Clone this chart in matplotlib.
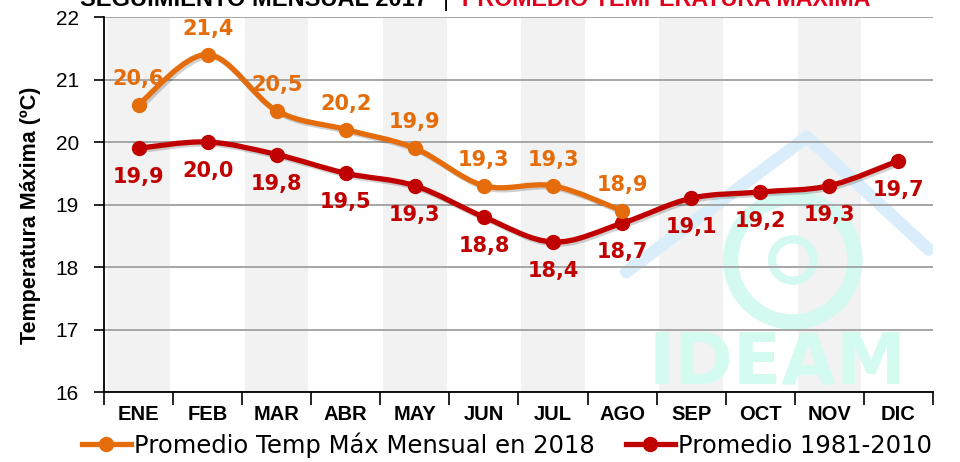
import matplotlib
matplotlib.use("Agg")
import matplotlib.pyplot as plt
import numpy as np
from matplotlib.path import Path
from matplotlib.patches import PathPatch, Ellipse
from matplotlib.lines import Line2D
from matplotlib.transforms import offset_copy

# datos
meses = ["ENE", "FEB", "MAR", "ABR", "MAY", "JUN", "JUL", "AGO", "SEP", "OCT", "NOV", "DIC"]
temp_2018 = [20.6, 21.4, 20.5, 20.2, 19.9, 19.3, 19.3, 18.9]
temp_1981_2010 = [19.9, 20.0, 19.8, 19.5, 19.3, 18.8, 18.4, 18.7, 19.1, 19.2, 19.3, 19.7]
yticks = [16, 17, 18, 19, 20, 21, 22]

NARANJA = "#e46c0a"
ROJO = "#c00000"
ARIAL = "Liberation Sans"


def curva_suave(xs, ys):
    # curva tipo "línea suavizada" de Excel (Bezier cúbica por los puntos)
    pts = np.column_stack([xs, ys]).astype(float)
    n = len(pts)
    verts = [pts[0]]
    codes = [Path.MOVETO]
    for i in range(n - 1):
        p0 = pts[i - 1] if i > 0 else pts[i]
        p1 = pts[i]
        p2 = pts[i + 1]
        p3 = pts[i + 2] if i + 2 < n else pts[i + 1]
        verts += [p1 + (p2 - p0) / 6.0, p2 - (p3 - p1) / 6.0, p2]
        codes += [Path.CURVE4] * 3
    return Path(verts, codes)


def ajustar_ancho(txt, ancho_px):
    # ajusta el tamaño de letra para que el texto ocupe ancho_px
    r = fig.canvas.get_renderer()
    w = txt.get_window_extent(r).width
    txt.set_fontsize(txt.get_fontsize() * ancho_px / w)


fig = plt.figure(figsize=(9.6, 4.62), dpi=100)
ax = fig.add_axes([0.1083, 0.1515, 0.8635, 0.8117])

x = np.arange(len(meses))

# franjas grises alternas
ax.bar(x[::2], 6, bottom=16, width=0.92, color="#f2f2f2", zorder=0.2)

# marca de agua IDEAM
marca = ax.text(0.813, 0.024, "IDEAM", transform=ax.transAxes, ha="center", va="baseline",
                fontsize=49, fontweight="bold", family="DejaVu Sans", color="#d3fbef", zorder=0.4)
ajustar_ancho(marca, 258)
ax.plot([0.63, 0.848, 0.995], [0.32, 0.68, 0.38], transform=ax.transAxes,
        color="#d9eefa", lw=9, solid_capstyle="round", zorder=0.4)
ax.add_patch(Ellipse((0.831, 0.352), 0.15, 0.33, transform=ax.transAxes, fill=False,
                     ec="#d3f9f1", lw=11, zorder=0.4))
ax.add_patch(Ellipse((0.831, 0.352), 0.05, 0.11, transform=ax.transAxes, fill=False,
                     ec="#d3f9f1", lw=6, zorder=0.4))

sombra_tr = offset_copy(ax.transData, fig=fig, x=2, y=-2, units="dots")

for datos, color, dy in [(temp_1981_2010, ROJO, -29), (temp_2018, NARANJA, 26)]:
    xs = x[:len(datos)]
    curva = curva_suave(xs, datos)
    ax.add_patch(PathPatch(curva, fill=False, ec="black", alpha=0.18, lw=4.0,
                           transform=sombra_tr, zorder=2.5))
    ax.add_patch(PathPatch(curva, fill=False, ec=color, lw=3.8,
                           capstyle="round", joinstyle="round", zorder=3))
    ax.plot(xs, datos, "o", color=color, ms=10, zorder=4)
    for xi, v in zip(xs, datos):
        ax.annotate(f"{v:.1f}".replace(".", ","), (xi, v), xytext=(0, dy),
                    textcoords="offset pixels", ha="center", va="center",
                    fontsize=15, fontweight="bold", family="DejaVu Sans", color=color, zorder=5)

ax.set_xlim(-0.5, 11.5)
ax.set_ylim(16, 22)
ax.set_yticks(yticks)
ax.set_yticklabels([str(t) for t in yticks], family=ARIAL, fontsize=15)
ax.set_xticks(x)
ax.set_xticklabels(meses, family=ARIAL, fontsize=14.5, fontweight="bold")
ax.set_xticks(np.arange(-0.5, 12, 1), minor=True)
ax.tick_params(axis="x", which="major", length=0, pad=9)
ax.tick_params(axis="x", which="minor", length=9, width=1.2, direction="out")
ax.tick_params(axis="y", length=7, width=1.2, pad=11)

ax.yaxis.grid(True, color="#a6a6a6", lw=1.4)
ax.set_axisbelow(True)
for s in ["top", "right"]:
    ax.spines[s].set_visible(False)
for s in ["left", "bottom"]:
    ax.spines[s].set_linewidth(1.3)
    ax.spines[s].set_color("black")

ax.set_ylabel("Temperatura Máxima (ºC)", family=ARIAL, fontsize=15.5, fontweight="bold")
ax.yaxis.set_label_coords(-0.076, 0.47)

# título (recortado en la parte superior)
ty = 1 - 6 / 462
t1 = fig.text(80 / 960, ty, "SEGUIMIENTO MENSUAL 2017", ha="left", va="baseline",
              fontsize=17, fontweight="bold", family=ARIAL, color="black")
fig.text(446 / 960, ty, "|", ha="center", va="baseline", fontsize=17, family=ARIAL, color="black")
t2 = fig.text(462 / 960, ty, "PROMEDIO TEMPERATURA MÁXIMA", ha="left", va="baseline",
              fontsize=17, fontweight="bold", family=ARIAL, color="#e0001b")
ajustar_ancho(t1, 349)
ajustar_ancho(t2, 409)

# leyenda
handles = [
    Line2D([], [], color=NARANJA, lw=3.8, marker="o", ms=10),
    Line2D([], [], color=ROJO, lw=3.8, marker="o", ms=10),
]
fig.legend(handles, ["Promedio Temp Máx Mensual en 2018", "Promedio 1981-2010"],
           loc="center", bbox_to_anchor=(0.528, 0.037), ncol=2, frameon=False,
           handlelength=2.0, handletextpad=0.12, columnspacing=1.3,
           prop={"family": "DejaVu Sans", "size": 17.5})

fig.savefig("out.png", dpi=100)
